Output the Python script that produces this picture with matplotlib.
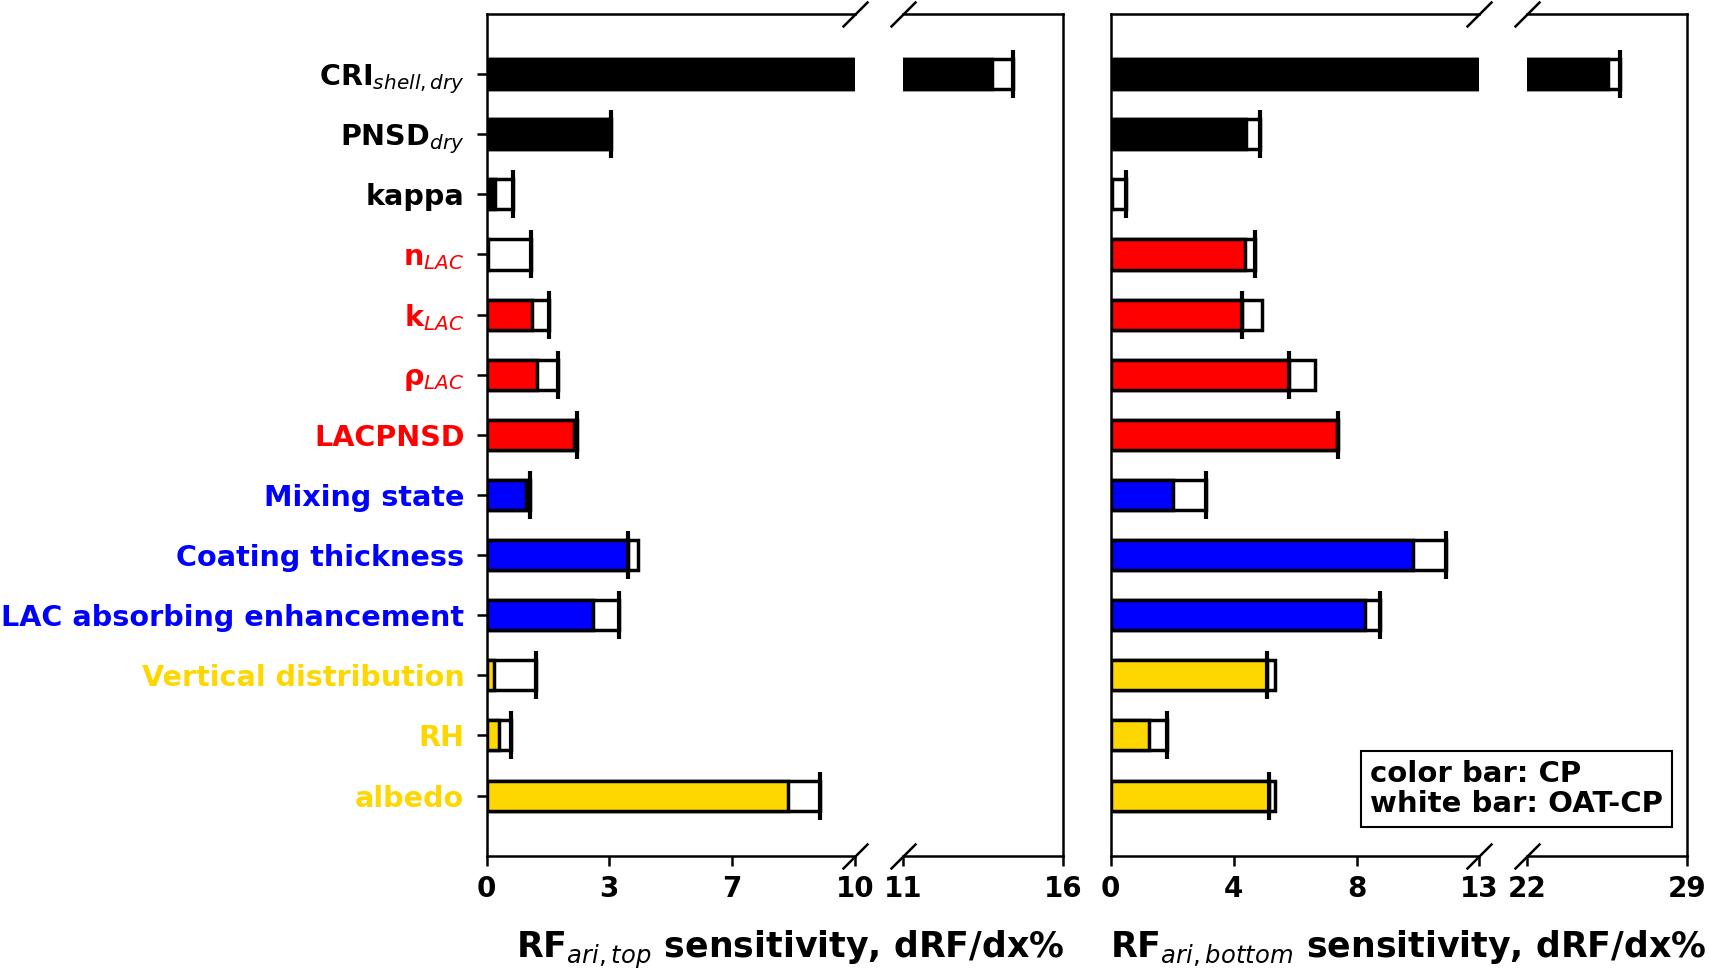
import numpy as np
import matplotlib
matplotlib.use('Agg')
import matplotlib.pyplot as plt

# ---------------- data ----------------
categories = ['CRI$_{shell,dry}$', 'PNSD$_{dry}$', 'kappa', 'n$_{LAC}$', 'k$_{LAC}$',
              'ρ$_{LAC}$', 'LACPNSD', 'Mixing state', 'Coating thickness',
              'LAC absorbing enhancement', 'Vertical distribution', 'RH', 'albedo']
group_colors = ['black', 'black', 'black', 'red', 'red', 'red', 'red',
                'blue', 'blue', 'blue', 'gold', 'gold', 'gold']

# RF_ari,top : CP (colour bar), OAT-CP (white bar), cap position
top_cp = [13.78, 3.30, 0.24, 0.05, 1.24, 1.37, 2.37, 1.06, 3.83, 2.89, 0.19, 0.33, 8.19]
top_oat = [14.45, 3.37, 0.72, 1.21, 1.69, 1.94, 2.45, 1.18, 4.12, 3.59, 1.33, 0.67, 9.07]
top_cap = [14.45, 3.37, 0.72, 1.21, 1.69, 1.94, 2.45, 1.18, 3.83, 3.59, 1.33, 0.67, 9.07]

# RF_ari,bottom
bot_cp = [25.55, 4.76, 0.05, 4.72, 4.61, 6.27, 7.97, 2.20, 10.64, 8.95, 5.49, 1.36, 5.57]
bot_oat = [26.05, 5.26, 0.54, 5.07, 5.32, 7.21, 8.00, 3.35, 11.81, 9.48, 5.79, 1.99, 5.79]
bot_cap = [26.05, 5.26, 0.54, 5.07, 4.61, 6.27, 8.00, 3.35, 11.81, 9.48, 5.49, 1.99, 5.57]

top_limits = [(0, 10), (11, 16)]
top_ticks = [list(np.linspace(0, 10, 4)), [11, 16]]
top_ticklabels = [['0', '3', '7', '10'], ['11', '16']]
bot_limits = [(0, 13), (22, 29)]
bot_ticks = [list(np.linspace(0, 13, 4)), [22, 29]]
bot_ticklabels = [['0', '4', '8', '13'], ['22', '29']]

top_xlabel = 'RF$_{ari,top}$ sensitivity, dRF/dx%'
bot_xlabel = 'RF$_{ari,bottom}$ sensitivity, dRF/dx%'
legend_text = 'color bar: CP\nwhite bar: OAT-CP'

# ---------------- layout ----------------
W, H = 1709, 976
fig = plt.figure(figsize=(W / 100, H / 100), dpi=100)
fig.patch.set_facecolor('white')

AX_TOP, AX_BOT = 14, 855.7


def rect(x0, x1):
    return [x0 / W, 1 - AX_BOT / H, (x1 - x0) / W, (AX_BOT - AX_TOP) / H]


seg_px = {'L1': (486.6, 854.7), 'L2': (902.8, 1062.7),
          'R1': (1110.8, 1479.5), 'R2': (1527.3, 1687.3)}

SPINE_LW = 1.8
y = np.arange(len(categories))


def draw_segment(ax, lims, ticks, ticklabels, cp, oat, cap, first, show_ylabels):
    ax.barh(y, oat, height=0.5, color='white', edgecolor='black', linewidth=2.5, zorder=2)
    ax.barh(y, cp, height=0.5, color=group_colors, edgecolor='black', linewidth=2.5, zorder=3)
    ax.plot(cap, y, ls='none', marker='|', ms=34.5, mew=3, color='black', zorder=4)
    ax.set_xlim(lims)
    ax.set_ylim(len(categories), -1)
    for s in ax.spines.values():
        s.set_linewidth(SPINE_LW)
    ax.set_xticks(ticks)
    ax.set_xticklabels(ticklabels, fontsize=20, fontweight='bold')
    ax.tick_params(axis='x', length=7, width=SPINE_LW, pad=7)
    if first:
        ax.spines['right'].set_visible(False)
    else:
        ax.spines['left'].set_visible(False)
    if show_ylabels:
        ax.set_yticks(y)
        ax.set_yticklabels(categories, fontsize=20.6, fontweight='bold')
        for lbl, c in zip(ax.get_yticklabels(), group_colors):
            lbl.set_color(c)
        ax.tick_params(axis='y', length=7, width=SPINE_LW, pad=9)
    else:
        ax.set_yticks([])
    # break marks
    xe = 1 if first else 0
    kw = dict(marker=[(-1, -1), (1, 1)], markersize=18.5, linestyle='none',
              color='k', mec='k', mew=1.8, clip_on=False, transform=ax.transAxes, zorder=10)
    ax.plot([xe, xe], [0, 1], **kw)


axL1 = fig.add_axes(rect(*seg_px['L1']))
axL2 = fig.add_axes(rect(*seg_px['L2']))
axR1 = fig.add_axes(rect(*seg_px['R1']))
axR2 = fig.add_axes(rect(*seg_px['R2']))

draw_segment(axL1, top_limits[0], top_ticks[0], top_ticklabels[0], top_cp, top_oat, top_cap, True, True)
draw_segment(axL2, top_limits[1], top_ticks[1], top_ticklabels[1], top_cp, top_oat, top_cap, False, False)
draw_segment(axR1, bot_limits[0], bot_ticks[0], bot_ticklabels[0], bot_cp, bot_oat, bot_cap, True, False)
draw_segment(axR2, bot_limits[1], bot_ticks[1], bot_ticklabels[1], bot_cp, bot_oat, bot_cap, False, False)

# x labels
fig.text(790 / W, 1 - 958 / H, top_xlabel, ha='center', va='baseline', fontsize=25, fontweight='bold')
fig.text(1408 / W, 1 - 958 / H, bot_xlabel, ha='center', va='baseline', fontsize=25, fontweight='bold')

# legend box
fig.text(1370 / W, 1 - 789 / H, legend_text, ha='left', va='center', fontsize=21, fontweight='bold',
         linespacing=1.1,
         bbox=dict(boxstyle='square,pad=0.3', facecolor='white', edgecolor='black', linewidth=1.5))

fig.savefig('out.png', dpi=100, facecolor='white')
